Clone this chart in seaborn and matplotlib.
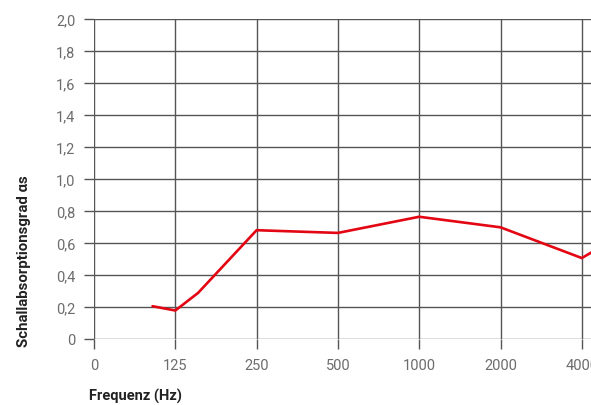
import numpy as np
import pandas as pd
import matplotlib
matplotlib.use("Agg")
import matplotlib.pyplot as plt
import seaborn as sns

# Data
freq_hz = [90, 125, 160, 250, 500, 1000, 2000, 4000, 5000]
alpha_s = [0.205, 0.178, 0.288, 0.68, 0.663, 0.764, 0.698, 0.506, 0.58]
tick_freqs = [0, 125, 250, 500, 1000, 2000, 4000]
tick_labels = ["0", "125", "250", "500", "1000", "2000", "4000"]
y_ticks = [0, 0.2, 0.4, 0.6, 0.8, 1.0, 1.2, 1.4, 1.6, 1.8, 2.0]
y_labels = ["0", "0,2", "0,4", "0,6", "0,8", "1,0", "1,2", "1,4", "1,6", "1,8", "2,0"]

sns.set_theme(style="white")
plt.rcParams["font.family"] = ["Roboto", "DejaVu Sans"]

W, H = 591, 406
fig = plt.figure(figsize=(W / 100, H / 100), dpi=100)
left, bottom, top = 94 / W, (H - 340) / H, (H - 20) / H
px_per_idx = 81.3
xmax_idx = 6.6
right_px = 94 + xmax_idx * px_per_idx
ax = fig.add_axes([left, bottom, (right_px - 94) / W, top - bottom])

df = pd.DataFrame({"freq": freq_hz, "alpha": alpha_s})

# piecewise-linear frequency scale (equal spacing between octave ticks)
scale_f = np.array([0, 125, 250, 500, 1000, 2000, 4000, 8000], dtype=float)
scale_i = np.arange(len(scale_f), dtype=float)

def fwd(x):
    return np.interp(x, scale_f, scale_i)

def inv(x):
    return np.interp(x, scale_i, scale_f)

ax.set_xscale("function", functions=(fwd, inv))
sns.lineplot(data=df, x="freq", y="alpha", ax=ax, color="#e30613",
             linewidth=1.9, zorder=3)

ax.set_xlim(0, inv(xmax_idx))
ax.set_ylim(0, 2.0)
ax.set_xticks(tick_freqs)
ax.set_xticklabels(tick_labels)
ax.set_yticks(y_ticks)
ax.set_yticklabels(y_labels)
ax.minorticks_off()

grid_c = "#555555"
ax.grid(True, color=grid_c, linewidth=1.0)
for s in ax.spines.values():
    s.set_visible(False)
ax.tick_params(axis="both", which="major", length=7, width=1.0, color=grid_c,
               labelcolor="#6c6c6c", labelsize=10.5, pad=6.5,
               bottom=True, left=True, direction="out")
ax.set_xlabel("")
ax.set_ylabel("")

fig.text(89 / W, 1 - 396 / H, "Frequenz (Hz)", ha="left", va="center",
         fontsize=10.5, fontweight="bold", color="#222222")
fig.text(24 / W, 1 - 347 / H, "Schallabsorptionsgrad αs", ha="center",
         va="bottom", rotation=90, fontsize=10.8, fontweight="bold",
         color="#222222")

fig.savefig("out.png", dpi=100)
